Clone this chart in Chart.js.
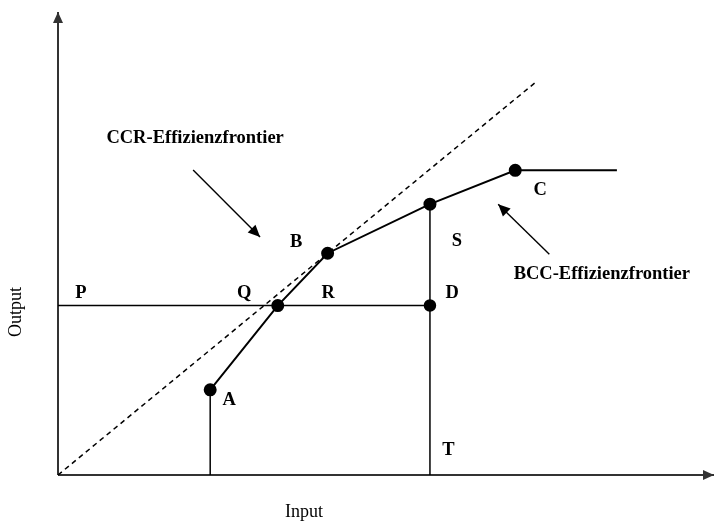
<!DOCTYPE html>
<html>
<head>
<meta charset="utf-8">
<script src="https://cdn.jsdelivr.net/npm/chart.js@4/dist/chart.umd.min.js"></script>
<style>
html,body{margin:0;padding:0;background:#fff;overflow:hidden;}
canvas{display:block;}
</style>
</head>
<body>
<canvas id="c" width="715" height="524" style="width:715px;height:524px;"></canvas>
<script>
// ---- data (input / output units) ----
const frontierNames = ['A', 'Q', 'B', 'S', 'C', ''];
const frontierX = [2.32, 3.35, 4.11, 5.67, 6.97, 8.52];
const frontierY = [1.84, 3.66, 4.79, 5.85, 6.58, 6.58];
const ccrX = [0, 7.27];
const ccrY = [0, 8.47];
const pdX = [0, 5.67];
const pdY = [3.66, 3.66];
const aVertX = [2.32, 2.32];
const aVertY = [0, 1.84];
const sVertX = [5.67, 5.67];
const sVertY = [0, 5.85];
const axisXLine = [[0, 0], [10, 0]];
const axisYLine = [[0, 0], [0, 10]];
const ccrArrowX = [2.06, 3.08];
const ccrArrowY = [6.59, 5.14];
const bccArrowX = [7.49, 6.71];
const bccArrowY = [4.77, 5.85];
const labelTexts = ['CCR-Effizienzfrontier', 'BCC-Effizienzfrontier', 'A', 'B', 'C', 'D', 'P', 'Q', 'R', 'S', 'T'];
const labelX = [2.09, 8.29, 2.61, 3.63, 7.35, 6.01, 0.35, 2.84, 4.12, 6.08, 5.95];
const labelY = [7.27, 4.34, 1.62, 5.03, 6.16, 3.93, 3.93, 3.93, 3.93, 5.05, 0.54];
const axisTitles = ['Input', 'Output'];
const axisTitleX = [3.75, -0.64];
const axisTitleY = [-0.80, 3.52];

const pts = (xs, ys) => xs.map((x, i) => ({x: x, y: ys[i]}));

const arrowPlugin = {
  id: 'arrows',
  afterDatasetsDraw(chart) {
    const ctx = chart.ctx;
    chart.data.datasets.forEach((ds, i) => {
      if (!ds.arrowHead) return;
      const meta = chart.getDatasetMeta(i);
      const n = meta.data.length;
      const p1 = meta.data[n - 2], p2 = meta.data[n - 1];
      const ang = Math.atan2(p2.y - p1.y, p2.x - p1.x);
      const L = ds.arrowHead.len, W = ds.arrowHead.wid;
      ctx.save();
      ctx.fillStyle = ds.borderColor;
      ctx.translate(p2.x, p2.y);
      ctx.rotate(ang);
      ctx.beginPath();
      ctx.moveTo(0, 0);
      ctx.lineTo(-L, -W);
      ctx.lineTo(-L, W);
      ctx.closePath();
      ctx.fill();
      ctx.restore();
    });
  }
};

const labelPlugin = {
  id: 'labels',
  afterDatasetsDraw(chart) {
    const ctx = chart.ctx;
    const xs = chart.scales.x, ys = chart.scales.y;
    ctx.save();
    ctx.fillStyle = '#000';
    ctx.textAlign = 'center';
    ctx.textBaseline = 'middle';
    ctx.font = 'bold 18.5px "Liberation Serif", "Times New Roman", serif';
    labelTexts.forEach((t, i) => {
      ctx.fillText(t, xs.getPixelForValue(labelX[i]), ys.getPixelForValue(labelY[i]));
    });
    ctx.font = '18px "Liberation Serif", "Times New Roman", serif';
    ctx.fillText(axisTitles[0], xs.getPixelForValue(axisTitleX[0]), ys.getPixelForValue(axisTitleY[0]));
    ctx.translate(xs.getPixelForValue(axisTitleX[1]), ys.getPixelForValue(axisTitleY[1]));
    ctx.rotate(-Math.PI / 2);
    ctx.fillText(axisTitles[1], 0, 0);
    ctx.restore();
  }
};

const line = (data, extra) => Object.assign({
  data: data, showLine: true, borderColor: '#000', backgroundColor: '#000',
  borderWidth: 1.5, pointRadius: 0, pointHoverRadius: 0, clip: false, tension: 0
}, extra || {});

new Chart(document.getElementById('c'), {
  type: 'scatter',
  data: {
    datasets: [
      line(pts(frontierX, frontierY), {
        label: 'BCC', borderWidth: 2,
        pointRadius: frontierNames.map(n => n ? 5.5 : 0)
      }),
      line(pts(pdX, pdY), {label: 'PD', pointRadius: [0, 5.5]}),
      line(pts(aVertX, aVertY), {label: 'Avert'}),
      line(pts(sVertX, sVertY), {label: 'Svert'}),
      line(pts(ccrX, ccrY), {label: 'CCR', borderDash: [5, 4], borderWidth: 1.5}),
      line(pts(ccrArrowX, ccrArrowY), {label: 'arrowCCR', borderWidth: 1.4, arrowHead: {len: 12, wid: 5.5}}),
      line(pts(bccArrowX, bccArrowY), {label: 'arrowBCC', borderWidth: 1.4, arrowHead: {len: 12, wid: 5.5}}),
      line(axisXLine.map(p => ({x: p[0], y: p[1]})), {label: 'xaxis', borderColor: '#333', backgroundColor: '#333', borderWidth: 2, arrowHead: {len: 11, wid: 5}}),
      line(axisYLine.map(p => ({x: p[0], y: p[1]})), {label: 'yaxis', borderColor: '#333', backgroundColor: '#333', borderWidth: 2, arrowHead: {len: 11, wid: 5}})
    ]
  },
  options: {
    responsive: false,
    maintainAspectRatio: false,
    animation: false,
    devicePixelRatio: 1,
    layout: {autoPadding: false, padding: {left: 58, right: 1, top: 12, bottom: 49}},
    plugins: {legend: {display: false}, tooltip: {enabled: false}},
    events: [],
    scales: {
      x: {type: 'linear', min: 0, max: 10, display: false},
      y: {type: 'linear', min: 0, max: 10, display: false}
    }
  },
  plugins: [arrowPlugin, labelPlugin]
});
</script>
</body>
</html>
